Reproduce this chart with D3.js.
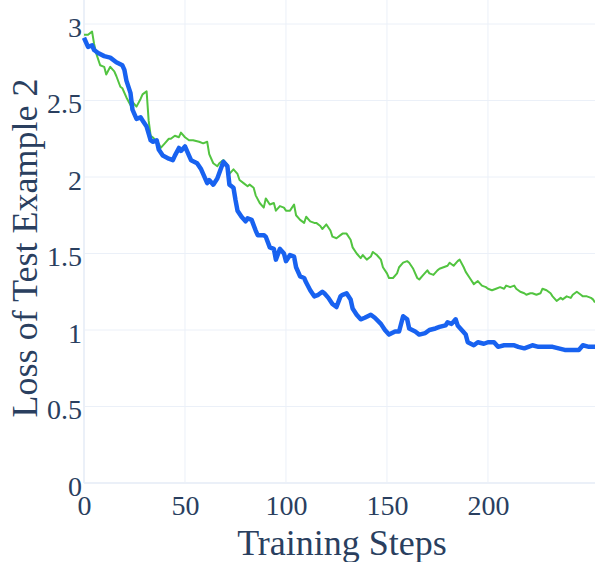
<!DOCTYPE html>
<html>
<head>
<meta charset="utf-8">
<script src="https://cdn.jsdelivr.net/npm/d3@7"></script>
<style>
  html, body { margin: 0; padding: 0; background: #ffffff; }
  svg { display: block; }
</style>
</head>
<body>
<svg id="chart" width="595" height="562"></svg>
<script>
// Loss curves on test example 2 over training steps
const blueSteps = [0,2,4,5,7,10,13,16,19,20,21,23,24,26,28,29,31,33,34,36,37,39,42,44,45,47,48,50,52,53,56,58,61,62,64,66,69,71,72,74,75,76,78,80,81,83,85,86,89,90,92,94,95,97,99,100,102,104,105,107,109,110,112,114,116,118,119,121,123,125,127,128,130,132,133,135,137,139,142,144,147,149,151,154,156,158,160,161,164,166,169,171,174,176,179,180,182,184,185,187,189,190,193,195,198,200,203,205,208,210,213,215,218,220,222,225,228,232,235,238,241,245,247,250,253];
const blueLoss  = [2.91,2.85,2.86,2.83,2.81,2.79,2.78,2.75,2.73,2.70,2.63,2.55,2.44,2.38,2.39,2.37,2.33,2.24,2.23,2.24,2.18,2.14,2.12,2.11,2.14,2.19,2.17,2.20,2.14,2.11,2.09,2.05,1.96,1.98,1.95,1.99,2.10,2.07,1.95,1.93,1.85,1.78,1.74,1.71,1.73,1.72,1.65,1.62,1.62,1.61,1.54,1.53,1.46,1.53,1.50,1.45,1.49,1.48,1.41,1.35,1.34,1.31,1.26,1.22,1.23,1.25,1.24,1.21,1.17,1.15,1.22,1.23,1.24,1.20,1.14,1.10,1.07,1.08,1.10,1.08,1.04,1.00,0.97,0.99,0.99,1.09,1.07,1.01,0.99,0.97,0.98,1.00,1.01,1.02,1.03,1.05,1.04,1.07,1.03,1.00,0.97,0.92,0.90,0.92,0.91,0.92,0.92,0.89,0.90,0.90,0.90,0.89,0.88,0.89,0.90,0.89,0.89,0.89,0.88,0.87,0.87,0.87,0.90,0.89,0.89];

const greenSteps = [0,2,4,5,6,8,10,11,13,15,16,18,19,21,23,24,26,28,29,31,32,33,34,37,38,40,42,43,45,47,48,50,52,54,57,59,61,62,64,66,67,69,71,72,74,76,77,79,81,82,84,85,87,89,90,92,94,95,97,99,100,102,104,105,107,109,110,112,114,115,117,118,120,122,123,125,127,128,130,132,133,135,137,138,140,142,143,145,147,148,150,151,153,155,156,158,160,161,163,165,166,168,170,171,173,175,176,178,180,181,183,185,186,188,189,191,193,195,197,199,200,202,204,206,208,209,211,213,214,216,218,219,221,222,224,226,227,229,231,232,234,236,237,239,241,242,244,246,247,249,251,252,253];
const greenLoss  = [2.93,2.93,2.95,2.87,2.81,2.73,2.72,2.67,2.72,2.69,2.66,2.59,2.58,2.52,2.47,2.49,2.46,2.51,2.54,2.56,2.37,2.27,2.26,2.22,2.19,2.22,2.25,2.25,2.27,2.26,2.29,2.26,2.24,2.24,2.23,2.22,2.23,2.15,2.09,2.07,2.09,2.11,2.08,2.02,2.05,2.02,1.98,1.96,1.94,1.95,1.93,1.88,1.83,1.80,1.86,1.82,1.83,1.78,1.81,1.80,1.78,1.78,1.82,1.75,1.72,1.70,1.74,1.71,1.70,1.70,1.68,1.66,1.69,1.65,1.61,1.60,1.62,1.63,1.63,1.59,1.54,1.50,1.47,1.49,1.46,1.48,1.51,1.49,1.46,1.41,1.37,1.34,1.34,1.37,1.41,1.44,1.45,1.44,1.40,1.34,1.33,1.36,1.39,1.37,1.36,1.39,1.40,1.41,1.42,1.44,1.42,1.45,1.46,1.41,1.38,1.34,1.30,1.32,1.29,1.28,1.27,1.26,1.27,1.28,1.27,1.29,1.28,1.29,1.27,1.25,1.24,1.23,1.24,1.24,1.23,1.24,1.27,1.26,1.24,1.22,1.19,1.21,1.20,1.22,1.21,1.23,1.25,1.23,1.22,1.22,1.21,1.20,1.18];

const xTicks = [0, 50, 100, 150, 200];
const yTicks = [0, 0.5, 1, 1.5, 2, 2.5, 3];
const xTitle = "Training Steps";
const yTitle = "Loss of Test Example 2";

const svg = d3.select("#chart");
const textColor = "#2a3f5f";
const gridColor = "#ebf0f8";
const fontFamily = "'Liberation Serif', 'Times New Roman', serif";

const plotLeft = 84, plotRight = 595, plotTop = 0, plotBottom = 483;
const x = d3.scaleLinear().domain([0, 253]).range([plotLeft, plotRight]);
const y = d3.scaleLinear().domain([0, 3]).range([plotBottom, 24]);

// grid
const grid = svg.append("g");
grid.selectAll("line.vx").data(xTicks).join("line")
  .attr("x1", d => x(d)).attr("x2", d => x(d))
  .attr("y1", plotTop).attr("y2", plotBottom)
  .attr("stroke", gridColor).attr("stroke-width", d => d === 0 ? 2 : 1);
grid.selectAll("line.hy").data(yTicks).join("line")
  .attr("x1", plotLeft).attr("x2", plotRight)
  .attr("y1", d => y(d)).attr("y2", d => y(d))
  .attr("stroke", gridColor).attr("stroke-width", d => d === 0 ? 2 : 1);

// axes built from d3 axis generators, domain path and tick marks hidden
const xAxis = svg.append("g")
  .attr("transform", `translate(0,${plotBottom})`)
  .call(d3.axisBottom(x).tickValues(xTicks).tickSize(0).tickPadding(0).tickFormat(d3.format("d")));
xAxis.select(".domain").remove();
xAxis.selectAll("text")
  .attr("y", 32).attr("dy", 0)
  .attr("fill", textColor).style("font-family", fontFamily).style("font-size", "28px");

const yAxis = svg.append("g")
  .attr("transform", `translate(${plotLeft - 2},0)`)
  .call(d3.axisLeft(y).tickValues(yTicks).tickSize(0).tickPadding(0).tickFormat(d => String(d)));
yAxis.select(".domain").remove();
yAxis.selectAll("text")
  .attr("x", 0).attr("dy", 12)
  .attr("fill", textColor).style("font-family", fontFamily).style("font-size", "28px");

// series
const line = d3.line().x(d => x(d[0])).y(d => y(d[1]));
const greenData = d3.zip(greenSteps, greenLoss);
const blueData = d3.zip(blueSteps, blueLoss);

svg.append("path").datum(greenData)
  .attr("d", line).attr("fill", "none")
  .attr("stroke", "#52c440").attr("stroke-width", 2)
  .attr("stroke-linejoin", "round");
svg.append("path").datum(blueData)
  .attr("d", line).attr("fill", "none")
  .attr("stroke", "#1862f0").attr("stroke-width", 4.5)
  .attr("stroke-linejoin", "round");

// titles
svg.append("text")
  .attr("x", (237 + 447) / 2).attr("y", 555)
  .attr("text-anchor", "middle")
  .attr("fill", textColor).style("font-family", fontFamily).style("font-size", "36px")
  .text(xTitle);
svg.append("text")
  .attr("transform", "translate(37,248) rotate(-90)")
  .attr("text-anchor", "middle")
  .attr("fill", textColor).style("font-family", fontFamily).style("font-size", "36px")
  .text(yTitle);
</script>
</body>
</html>
